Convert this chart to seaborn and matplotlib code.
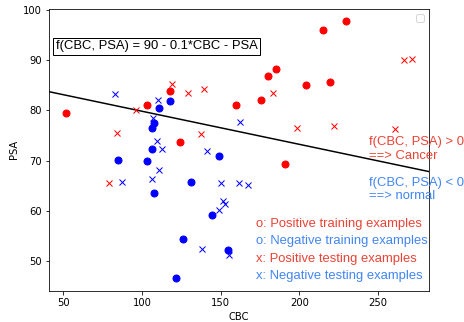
import matplotlib
matplotlib.use("Agg")
import matplotlib.pyplot as plt
import seaborn as sns
import pandas as pd

# Positive training examples (red circles)
pos_train_cbc = [51.7, 103.0, 117.7, 124.1, 159.5, 175.5, 180.2, 185.2, 190.8, 204.1, 215.0, 229.7, 219.3]
pos_train_psa = [79.5, 81.0, 83.8, 73.8, 81.0, 82.1, 86.9, 88.3, 69.3, 85.0, 96.1, 97.9, 85.7]

# Negative training examples (blue circles)
neg_train_cbc = [111.0, 117.7, 107.7, 106.1, 106.7, 84.7, 103.0, 107.6, 121.6, 125.8, 131.0, 144.6, 154.4, 148.9]
neg_train_psa = [80.4, 81.9, 77.6, 76.6, 72.3, 70.1, 69.9, 63.5, 46.5, 54.4, 65.8, 59.1, 52.2, 70.9]

# Positive testing examples (red x)
pos_test_cbc = [119.4, 96.3, 84.3, 78.8, 129.0, 139.5, 137.4, 183.3, 198.2, 221.7, 260.8, 266.7, 271.6]
pos_test_psa = [85.2, 80.0, 75.6, 65.6, 83.5, 84.2, 75.4, 83.5, 76.6, 77.0, 76.4, 90.1, 90.3]

# Negative testing examples (blue x)
neg_test_cbc = [82.8, 110.0, 106.8, 109.3, 112.5, 110.8, 106.5, 87.5, 141.2, 162.2, 150.1, 161.4,
                167.3, 151.8, 152.9, 149.1, 137.9, 155.4]
neg_test_psa = [83.2, 82.0, 78.6, 73.9, 72.3, 68.1, 66.3, 65.7, 72.0, 77.8, 65.6, 65.6,
                65.1, 62.0, 61.4, 60.2, 52.3, 51.1]

# Decision line
line_cbc = [41.0, 282.5]
line_psa = [83.75, 67.8]

formula_text = "f(CBC, PSA) = 90 - 0.1*CBC - PSA"
cancer_text = "f(CBC, PSA) > 0\n==> Cancer"
normal_text = "f(CBC, PSA) < 0\n==> normal"
legend_texts = ["o: Positive training examples", "o: Negative training examples",
                "x: Positive testing examples", "x: Negative testing examples"]

RED_T = "#EA4335"
BLUE_T = "#4285F4"
TXT_FONT = ["Liberation Sans", "DejaVu Sans"]

fig = plt.figure(figsize=(464 / 72, 322 / 72), dpi=72)
ax = fig.add_axes([49 / 464, 31 / 322, (429.3 - 49) / 464, (291 - 8.7) / 322])

sns.lineplot(x=line_cbc, y=line_psa, color="black", linewidth=1.5, ax=ax)
sns.scatterplot(x=pos_train_cbc, y=pos_train_psa, color="red", marker="o", s=49,
                edgecolor="red", linewidth=1, ax=ax, zorder=3)
sns.scatterplot(x=neg_train_cbc, y=neg_train_psa, color="blue", marker="o", s=49,
                edgecolor="blue", linewidth=1, ax=ax, zorder=3)
sns.scatterplot(x=pos_test_cbc, y=pos_test_psa, color="red", marker="x", s=36,
                linewidth=1, ax=ax, zorder=3)
sns.scatterplot(x=neg_test_cbc, y=neg_test_psa, color="blue", marker="x", s=36,
                linewidth=1, ax=ax, zorder=3)

ax.set_xlim(41, 282.5)
ax.set_ylim(44, 100.3)
ax.set_xlabel("CBC")
ax.set_ylabel("PSA")

ax.text(45.5, 92.8, formula_text, ha="left", va="center", fontsize=13, family=TXT_FONT,
        bbox=dict(boxstyle="square,pad=0.2", facecolor="white", edgecolor="black"))

ax.text(244.5, 72.35, cancer_text, ha="left", va="center", fontsize=13, color=RED_T,
        family=TXT_FONT, linespacing=1.2)
ax.text(244.5, 64.25, normal_text, ha="left", va="center", fontsize=13, color=BLUE_T,
        family=TXT_FONT, linespacing=1.2)

leg_y = [57.3, 53.95, 50.3, 47.0]
leg_c = [RED_T, BLUE_T, RED_T, BLUE_T]
for t, yy, cc in zip(legend_texts, leg_y, leg_c):
    ax.text(172.6, yy, t, ha="left", va="center", fontsize=13, color=cc, family=TXT_FONT)

ax.legend()

fig.savefig("out.png", dpi=72)
